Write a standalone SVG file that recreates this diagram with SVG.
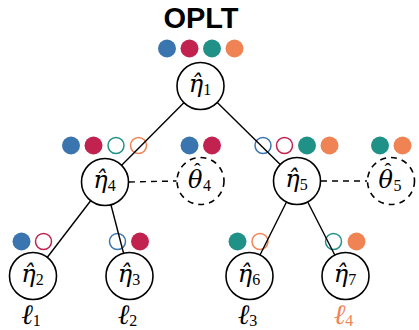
<svg xmlns="http://www.w3.org/2000/svg" width="419" height="330" viewBox="0 0 419 330">
<style>
.node{fill:#fff;stroke:#000;stroke-width:1.6}
.dnode{fill:#fff;stroke:#000;stroke-width:1.6;stroke-dasharray:6 5}
.edge{stroke:#000;stroke-width:1.4;fill:none}
.dedge{stroke:#000;stroke-width:1.4;fill:none;stroke-dasharray:6 5}
.m{font-family:"DejaVu Serif","Liberation Serif",serif;font-style:italic;font-size:24px;fill:#000}
.s{font-family:"Liberation Serif","DejaVu Serif",serif;font-style:normal;font-size:16px}
.h{font-family:"Liberation Serif","DejaVu Serif",serif;font-style:normal;font-size:20px}
.ell{font-family:"Liberation Serif","DejaVu Serif",serif;font-style:italic;font-size:28px;fill:#000}
.b{fill:#3B75AF}.r{fill:#C1224F}.t{fill:#209187}.o{fill:#EF8354}
.hb{fill:none;stroke:#3B75AF;stroke-width:1.5}.hr{fill:none;stroke:#C1224F;stroke-width:1.5}
.ht{fill:none;stroke:#209187;stroke-width:1.5}.ho{fill:none;stroke:#EF8354;stroke-width:1.5}
</style>
<text x="201" y="28" text-anchor="middle" font-family="Liberation Sans, Arial, sans-serif" font-weight="bold" font-size="29">OPLT</text>
<g id="dots">
<circle class="b" cx="167" cy="48.5" r="9"/><circle class="r" cx="189.5" cy="48.5" r="9"/><circle class="t" cx="212" cy="48.5" r="9"/><circle class="o" cx="234.5" cy="48.5" r="9"/>
<circle class="b" cx="71" cy="145.5" r="9"/><circle class="r" cx="93.5" cy="145.5" r="9"/><circle class="ht" cx="116" cy="145.5" r="8"/><circle class="ho" cx="138.5" cy="145.5" r="8"/>
<circle class="b" cx="189.5" cy="145.5" r="9"/><circle class="r" cx="212" cy="145.5" r="9"/>
<circle class="hb" cx="263" cy="145.5" r="8"/><circle class="hr" cx="284.5" cy="145.5" r="8"/><circle class="t" cx="307" cy="145.5" r="9"/><circle class="o" cx="329.5" cy="145.5" r="9"/>
<circle class="t" cx="380" cy="145.5" r="9"/><circle class="o" cx="402.5" cy="145.5" r="9"/>
<circle class="b" cx="21.5" cy="241.5" r="9"/><circle class="hr" cx="43.5" cy="241.5" r="8"/>
<circle class="hb" cx="117.5" cy="241.5" r="8"/><circle class="r" cx="140" cy="241.5" r="9"/>
<circle class="t" cx="237.5" cy="241.5" r="9"/><circle class="ho" cx="260" cy="241.5" r="8"/>
<circle class="ht" cx="333.5" cy="241.5" r="8"/><circle class="o" cx="356.5" cy="241.5" r="9"/>
</g>
<g id="connectors">
<line class="edge" x1="200.5" y1="86" x2="105" y2="182"/>
<line class="edge" x1="200.5" y1="86" x2="297" y2="181"/>
<line class="edge" x1="105" y1="182" x2="33" y2="276"/>
<line class="edge" x1="105" y1="182" x2="129.5" y2="276"/>
<line class="edge" x1="297" y1="181" x2="249.5" y2="276"/>
<line class="edge" x1="297" y1="181" x2="345.5" y2="276"/>
<line class="dedge" x1="129" y1="182" x2="176.5" y2="181"/>
<line class="dedge" x1="321" y1="181" x2="367" y2="181"/>
</g>
<g id="eta1"><circle class="node" cx="200.5" cy="86" r="23.5"/><text class="m" x="200" y="92" text-anchor="middle">η̂<tspan class="s" dy="3">1</tspan></text></g>
<g id="eta4"><circle class="node" cx="105" cy="182" r="23.5"/><text class="m" x="104.5" y="188" text-anchor="middle">η̂<tspan class="s" dy="3">4</tspan></text></g>
<g id="theta4"><circle class="dnode" cx="200.5" cy="181" r="23.5"/><text class="m" x="188" y="188">θ<tspan class="h" x="194" y="178">ˆ</tspan><tspan class="s" x="203" y="191">4</tspan></text></g>
<g id="eta5"><circle class="node" cx="297" cy="181" r="23.5"/><text class="m" x="296.5" y="187" text-anchor="middle">η̂<tspan class="s" dy="3">5</tspan></text></g>
<g id="theta5"><circle class="dnode" cx="391" cy="181" r="23.5"/><text class="m" x="378.5" y="188">θ<tspan class="h" x="384.5" y="178">ˆ</tspan><tspan class="s" x="393.5" y="191">5</tspan></text></g>
<g id="eta2"><circle class="node" cx="33" cy="276" r="23.5"/><text class="m" x="32.5" y="282" text-anchor="middle">η̂<tspan class="s" dy="3">2</tspan></text></g>
<g id="eta3"><circle class="node" cx="129.5" cy="276" r="23.5"/><text class="m" x="129" y="282" text-anchor="middle">η̂<tspan class="s" dy="3">3</tspan></text></g>
<g id="eta6"><circle class="node" cx="249.5" cy="276" r="23.5"/><text class="m" x="249" y="282" text-anchor="middle">η̂<tspan class="s" dy="3">6</tspan></text></g>
<g id="eta7"><circle class="node" cx="345.5" cy="276" r="23.5"/><text class="m" x="345" y="282" text-anchor="middle">η̂<tspan class="s" dy="3">7</tspan></text></g>
<g id="labels">
<text class="ell" x="31" y="324" text-anchor="middle">ℓ<tspan class="s" dy="2" font-size="19">1</tspan></text>
<text class="ell" x="127.5" y="324" text-anchor="middle">ℓ<tspan class="s" dy="2" font-size="19">2</tspan></text>
<text class="ell" x="247.5" y="324" text-anchor="middle">ℓ<tspan class="s" dy="2" font-size="19">3</tspan></text>
<text class="ell" x="343.5" y="324" text-anchor="middle" style="fill:#EF8354">ℓ<tspan class="s" dy="2" font-size="19">4</tspan></text>
</g>
</svg>
